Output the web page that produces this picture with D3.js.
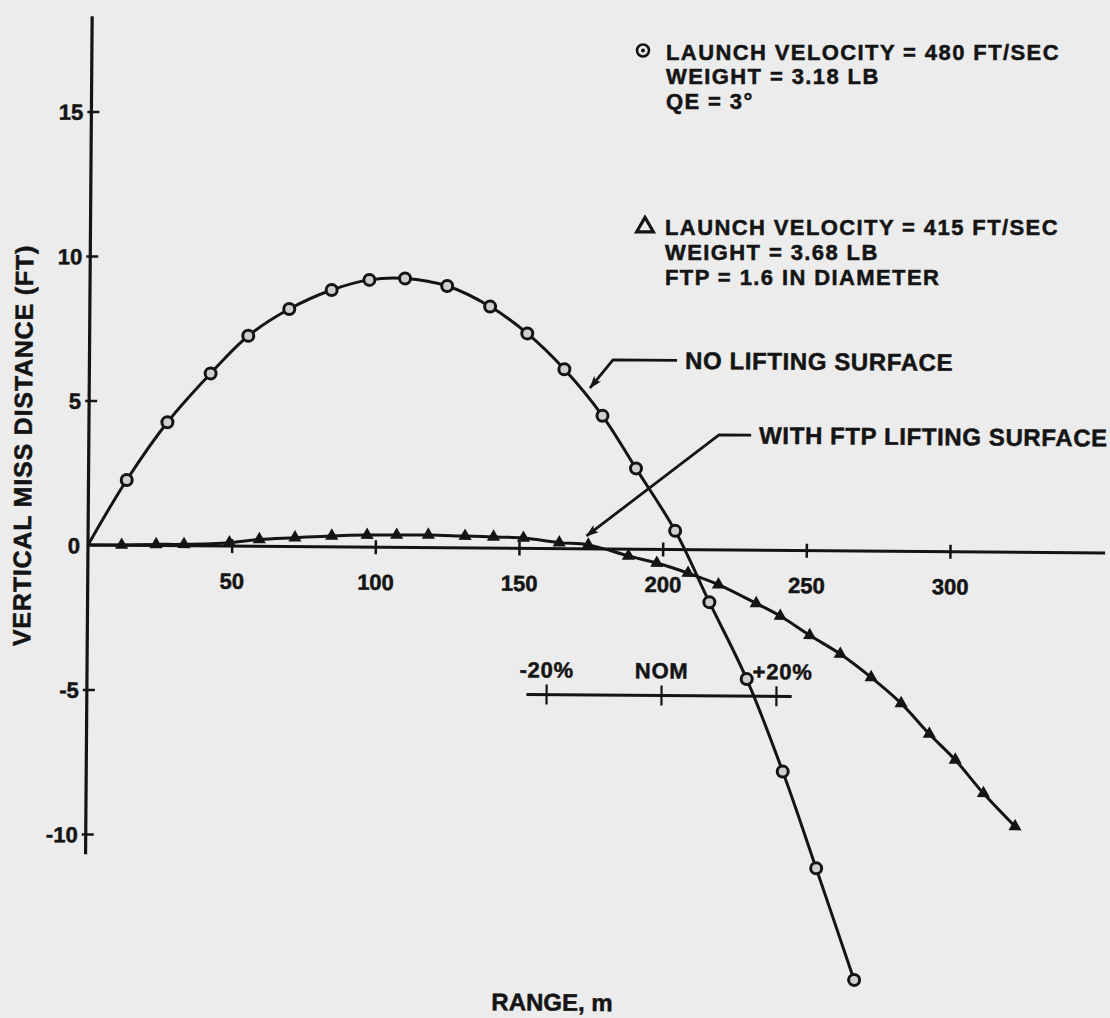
<!DOCTYPE html>
<html>
<head>
<meta charset="utf-8">
<script src="https://cdn.jsdelivr.net/npm/d3@7"></script>
<style>
  html, body { margin: 0; padding: 0; background: #ececec; }
  svg { display: block; }
  text { font-family: "Liberation Sans", Arial, Helvetica, sans-serif; font-weight: bold; fill: #141414; stroke: #141414; stroke-width: 0.5px; }
</style>
</head>
<body>
<div id="chart"></div>
<script>
// Chart data
const xTicks = [50, 100, 150, 200, 250, 300];
const yTicks = [-10, -5, 0, 5, 10, 15];

// No lifting surface, 480 ft/sec (circles)
const noLiftRange = [0, 13.3, 27.3, 42.2, 55.2, 69.4, 84.1, 97.2, 109.6, 124.3, 139.3, 152.3, 165.3, 178.7, 190.5, 204.3, 216.4, 229.6, 242.4, 254.3, 267.8];
const noLiftMiss = [0, 2.26, 4.27, 5.97, 7.28, 8.22, 8.89, 9.25, 9.31, 9.06, 8.36, 7.44, 6.21, 4.61, 2.80, 0.65, -1.81, -4.46, -7.65, -10.99, -14.84];

// With FTP lifting surface, 415 ft/sec (triangles)
const ftpRange = [0, 11.7, 23.7, 33.4, 49.2, 59.6, 72.0, 84.8, 97.1, 107.4, 118.4, 131.2, 141.1, 151.5, 164.0, 174.1, 188.1, 198.0, 208.9, 219.5, 232.7, 241.1, 251.4, 262.1, 272.9, 283.4, 293.3, 302.4, 312.3, 323.4];
const ftpMiss = [0, 0.01, 0.04, 0.05, 0.12, 0.24, 0.31, 0.38, 0.42, 0.43, 0.44, 0.41, 0.39, 0.36, 0.21, 0.14, -0.23, -0.47, -0.81, -1.20, -1.84, -2.27, -2.93, -3.57, -4.37, -5.26, -6.31, -7.20, -8.35, -9.49];

// Launch velocity scale drawn inside the plot
const velocityTicks = [160, 200, 240];
const velocityLabels = ["-20%", "NOM", "+20%"];
const velocityLevel = -5.05;

const legendNoLift = ["LAUNCH VELOCITY = 480 FT/SEC", "WEIGHT = 3.18 LB", "QE = 3°"];
const legendFtp = ["LAUNCH VELOCITY = 415 FT/SEC", "WEIGHT = 3.68 LB", "FTP = 1.6 IN DIAMETER"];

const width = 1110;
const height = 1018;
const ink = "#141414";

// Scales
const x = d3.scaleLinear().domain([0, 300]).range([88, 950]);
const y = d3.scaleLinear().domain([-10, 15]).range([834, 111.5]);

const svg = d3.select("#chart")
  .append("svg")
  .attr("width", width)
  .attr("height", height);

svg.append("defs").append("marker")
  .attr("id", "arrow")
  .attr("viewBox", "0 0 13 9")
  .attr("refX", 12)
  .attr("refY", 4.5)
  .attr("markerWidth", 13)
  .attr("markerHeight", 9)
  .attr("markerUnits", "userSpaceOnUse")
  .attr("orient", "auto")
  .append("path")
  .attr("d", "M0,0 L13,4.5 L0,9 L3,4.5 Z")
  .attr("fill", ink);

// the scanned page is turned a little clockwise
const g = svg.append("g")
  .attr("transform", `rotate(0.45, ${x(0)}, ${y(0)})`);

// Axis lines
g.append("line")
  .attr("x1", x(0)).attr("x2", x(354))
  .attr("y1", y(0)).attr("y2", y(0))
  .attr("stroke", ink).attr("stroke-width", 3);

g.append("line")
  .attr("x1", x(0)).attr("x2", x(0))
  .attr("y1", y(18.3)).attr("y2", y(-10.7))
  .attr("stroke", ink).attr("stroke-width", 3.2);

// X axis ticks and labels
const xAxis = g.append("g")
  .attr("transform", `translate(0,${y(0)})`)
  .call(d3.axisBottom(x).tickValues(xTicks).tickSize(7).tickPadding(20));
xAxis.select(".domain").remove();
xAxis.selectAll(".tick line")
  .attr("y1", -7)
  .attr("stroke", ink)
  .attr("stroke-width", 2.5);
xAxis.selectAll(".tick text")
  .style("font-size", "22px")
  .style("font-family", null)
  .attr("fill", ink);

// Y axis ticks and labels (plain hyphen for negatives, as printed)
const yAxis = g.append("g")
  .attr("transform", `translate(${x(0)},0)`)
  .call(d3.axisRight(y).tickValues(yTicks).tickSize(8).tickFormat(d => String(d)));
yAxis.select(".domain").remove();
yAxis.selectAll(".tick line")
  .attr("x1", -4)
  .attr("stroke", ink)
  .attr("stroke-width", 2.5)
  .style("visibility", d => d === 0 ? "hidden" : "visible");
yAxis.selectAll(".tick text")
  .attr("x", -8)
  .attr("text-anchor", "end")
  .attr("dy", "0.36em")
  .style("font-size", "22px")
  .style("font-family", null)
  .attr("fill", ink);

// Axis titles
g.append("text")
  .attr("transform", `translate(31,446) rotate(-90)`)
  .attr("text-anchor", "middle")
  .style("font-size", "25px")
  .style("letter-spacing", "0.8px")
  .text("VERTICAL MISS DISTANCE (FT)");

g.append("text")
  .attr("x", 495)
  .attr("y", 1007)
  .style("font-size", "24px")
  .text("RANGE, m");

// Curves
const noLift = noLiftRange.map((r, i) => ({ range: r, miss: noLiftMiss[i] }));
const ftp = ftpRange.map((r, i) => ({ range: r, miss: ftpMiss[i] }));

const line = d3.line()
  .x(d => x(d.range))
  .y(d => y(d.miss))
  .curve(d3.curveCatmullRom.alpha(0.5));

g.append("path")
  .datum(noLift)
  .attr("fill", "none")
  .attr("stroke", ink)
  .attr("stroke-width", 3)
  .attr("d", line);

g.append("path")
  .datum(ftp)
  .attr("fill", "none")
  .attr("stroke", ink)
  .attr("stroke-width", 3)
  .attr("d", line);

// Point markers (none at the origin)
g.selectAll(".circlePt")
  .data(noLift.slice(1))
  .join("circle")
  .attr("cx", d => x(d.range))
  .attr("cy", d => y(d.miss))
  .attr("r", 5.5)
  .attr("fill", "#cfcfcf")
  .attr("stroke", ink)
  .attr("stroke-width", 3);

g.selectAll(".triPt")
  .data(ftp.slice(1))
  .join("path")
  .attr("transform", d => `translate(${x(d.range)},${y(d.miss)})`)
  .attr("d", d3.symbol(d3.symbolTriangle, 75))
  .attr("fill", ink);

// Launch velocity indicator
const velY = y(velocityLevel);
g.append("line")
  .attr("x1", x(153)).attr("x2", x(245.3))
  .attr("y1", velY).attr("y2", velY)
  .attr("stroke", ink).attr("stroke-width", 3);

g.selectAll(".velTick")
  .data(velocityTicks)
  .join("line")
  .attr("x1", d => x(d)).attr("x2", d => x(d))
  .attr("y1", velY - 10).attr("y2", velY + 10)
  .attr("stroke", ink).attr("stroke-width", 2.2);

g.selectAll(".velLabel")
  .data(velocityTicks)
  .join("text")
  .attr("x", (d, i) => x(d) + (i === 2 ? 6 : 0))
  .attr("y", velY - 17)
  .attr("text-anchor", "middle")
  .style("font-size", "22px")
  .style("letter-spacing", "0.8px")
  .text((d, i) => velocityLabels[i]);

// Curve call-outs
function callout(tip, elbow, endX, label) {
  g.append("path")
    .attr("d", `M${x(endX)},${y(elbow[1])} L${x(elbow[0])},${y(elbow[1])} L${x(tip[0])},${y(tip[1])}`)
    .attr("fill", "none")
    .attr("stroke", ink)
    .attr("stroke-width", 2.8)
    .attr("marker-end", "url(#arrow)");
  g.append("text")
    .attr("x", x(endX) + 8)
    .attr("y", y(elbow[1]) + 8.5)
    .style("font-size", "24px")
    .style("letter-spacing", "0.6px")
    .text(label);
}
callout([174.3, 5.57], [182.2, 6.55], 204.5, "NO LIFTING SURFACE");
callout([173.5, 0.45], [219.3, 3.98], 230.5, "WITH FTP LIFTING SURFACE");

// Legend blocks (kept level so the stacked lines do not collide)
function legendBlock(lines, left, top, symbol) {
  const block = svg.append("g").attr("transform", `translate(${left},${top})`);
  block.selectAll("text")
    .data(lines)
    .join("text")
    .attr("x", 0)
    .attr("y", (d, i) => i * 24.8)
    .style("font-size", "22px")
    .style("letter-spacing", "1.4px")
    .text(d => d);
  if (symbol === "circle") {
    block.append("circle")
      .attr("cx", -23).attr("cy", -9).attr("r", 6)
      .attr("fill", "none").attr("stroke", ink).attr("stroke-width", 2.6);
    block.append("circle")
      .attr("cx", -23).attr("cy", -9).attr("r", 2)
      .attr("fill", ink);
  } else {
    block.append("path")
      .attr("transform", "translate(-20,-8)")
      .attr("d", d3.symbol(d3.symbolTriangle, 120))
      .attr("fill", "none").attr("stroke", ink).attr("stroke-width", 3.2);
  }
}
legendBlock(legendNoLift, 666, 59.5, "circle");
legendBlock(legendFtp, 665, 235, "triangle");
</script>
</body>
</html>
